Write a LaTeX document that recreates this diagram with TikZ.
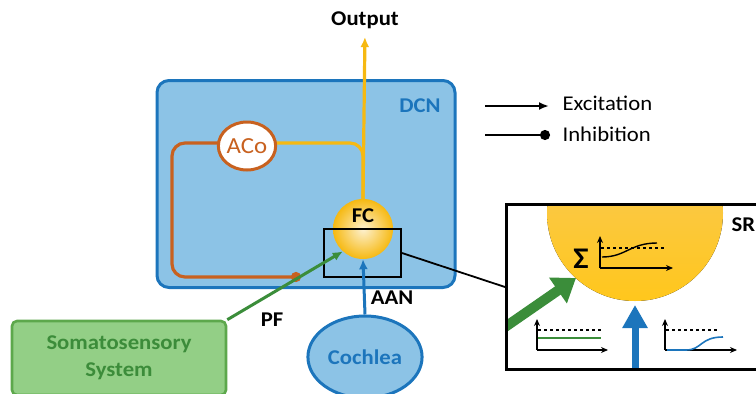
\documentclass[tikz,border=0pt]{standalone}
\usepackage{fontspec}
\setmainfont{Carlito}[FakeStretch=1.08]
\usetikzlibrary{arrows.meta,shapes.geometric}
\definecolor{dcnfill}{HTML}{8CC3E6}
\definecolor{dcnblue}{HTML}{1C75BC}
\definecolor{yel}{HTML}{F6B912}
\definecolor{srtop}{HTML}{F8C95E}
\definecolor{srbot}{HTML}{FFC71C}
\definecolor{ora}{HTML}{C8611F}
\definecolor{grn}{HTML}{3B8D3A}
\definecolor{grnfill}{HTML}{93CF86}
\definecolor{grnborder}{HTML}{5DA84C}
\definecolor{grntext}{HTML}{3C8C3A}
\begin{document}
\begin{tikzpicture}[x=1pt,y=-1pt,
  font=\fontsize{21}{23}\selectfont,
  lbl/.style={font=\fontsize{21}{23}\selectfont\bfseries},
  dcnbox/.style={draw=dcnblue, fill=dcnfill, line width=3pt, rounded corners=12pt, minimum width=298pt, minimum height=207pt},
  acostyle/.style={ellipse, draw=ora, fill=white, line width=3pt, minimum width=54pt, minimum height=48pt, text=ora, inner sep=0pt, font=\fontsize{23}{25}\selectfont},
  fcstyle/.style={circle, minimum size=60pt, inner sep=0pt, shading=radial, inner color=yel!20!white, outer color=yel},
  yelline/.style={draw=yel, line width=3.2pt},
  oraline/.style={draw=ora, line width=3.2pt},
  grnline/.style={draw=grn, line width=3pt},
  bluline/.style={draw=dcnblue, line width=3pt},
  tipsmall/.style={-{Latex[length=10pt,width=9pt]}},
  axis/.style={line width=1.4pt, -{Stealth[length=7pt,width=6pt]}},
]
\clip (0,0) rectangle (756,394);
% DCN box
\node[dcnbox] (dcn) at (306,184) {};
\node[lbl, text=dcnblue] (dcnlabel) at (420,106) {DCN};
% FC
\node[fcstyle] (fc) at (363,229) {};
\node[lbl] (fclabel) at (363,216) {FC};
\node[draw, line width=2pt, minimum width=77pt, minimum height=48pt] (win) at (362.5,253) {};
% output
\node[lbl] (output) at (365,20) {Output};
\draw[yelline, tipsmall, shorten >=5pt] (fc.north) -- (output.south);
\coordinate (acoe) at (272,143);
\coordinate (acow) at (222,143);
\draw[yelline, rounded corners=13pt] (acoe) -- (fc.north |- acoe) -- (fc.north);
\coordinate (inh) at (301,277);
\coordinate (orl) at (172,143);
\coordinate (orb) at (172,277);
\draw[oraline, -{Circle[length=10pt]}, rounded corners=13pt] (acow) -- (orl) -- (orb) -- (inh);
\node[acostyle] (aco) at (247,146) {ACo};
% somatosensory
\node[draw=grnborder, fill=grnfill, line width=2.6pt, rounded corners=5pt, minimum width=214pt, minimum height=74pt, text=grntext, font=\fontsize{21}{27}\selectfont\bfseries, align=center] (soma) at (119,358) {Somatosensory\\System};
\draw[grnline, tipsmall] (soma.north east) -- (fc.228);
\node[lbl] (pf) at (272,320) {PF};
% cochlea
\node[ellipse, draw=dcnblue, fill=dcnfill, line width=3pt, minimum width=110pt, minimum height=82pt, text=dcnblue, font=\fontsize{21}{24}\selectfont\bfseries] (coch) at (365,357) {Cochlea};
\draw[bluline, tipsmall] (coch.north) -- (fc.south);
\node[lbl] (aan) at (392,298) {AAN};
% legend
\node[anchor=west] (exc) at (559,103) {Excitation};
\node[anchor=west] (inhl) at (559,134) {Inhibition};
\coordinate (exs) at (485,106);
\coordinate (exe) at (549,106);
\coordinate (ins) at (485,135);
\coordinate (ine) at (550,135);
\draw[line width=2.4pt, -{Latex[length=10pt,width=8pt]}] (exs) -- (exe);
\draw[line width=2.4pt, -{Circle[length=10pt]}] (ins) -- (ine);
% SR box
\begin{scope}
\clip (505,203) rectangle (770,368);
\fill[top color=srtop, bottom color=srbot] (635,213) circle (88);
\draw[draw=grn, line width=10pt, -{Triangle[length=22pt,width=30pt]}] (495,334) -- (576,278);
\draw[draw=dcnblue, line width=7pt, -{Triangle[length=23pt,width=24pt]}] (635,372) -- (635,305);
\end{scope}
\node[draw, line width=3pt, minimum width=262pt, minimum height=165pt, anchor=north west] (sr) at (505,203) {};
\draw[line width=1.8pt] (win.east) -- (sr.west);
\node[font=\fontsize{21}{23}\selectfont\bfseries, anchor=west] (srlabel) at (728,225) {SR};
% sum graph
\node[font=\fontsize{30}{30}\selectfont\bfseries] (sigma) at (581,259) {Σ};
\draw[axis] (600,268) -- (600,236);
\draw[axis] (600,268) -- (673,268);
\draw[dashed, line width=1.4pt] (601,248) -- (665,248);
\draw[line width=1.4pt] (602,257) .. controls (626,257) and (630,243) .. (657,243);
% left small graph
\draw[axis] (537,350) -- (537,319);
\draw[axis] (537,350) -- (608,350);
\draw[dashed, line width=1.4pt] (538,330) -- (601,330);
\draw[draw=grn, line width=1.6pt] (538,338) -- (601,338);
% right small graph
\draw[axis] (665,350) -- (665,319);
\draw[axis] (665,350) -- (737,350);
\draw[dashed, line width=1.4pt] (666,330) -- (719,330);
\draw[draw=dcnblue, line width=1.6pt] (667,350) -- (686,350) .. controls (702,350) and (700,337) .. (723,337);
\end{tikzpicture}
\end{document}
